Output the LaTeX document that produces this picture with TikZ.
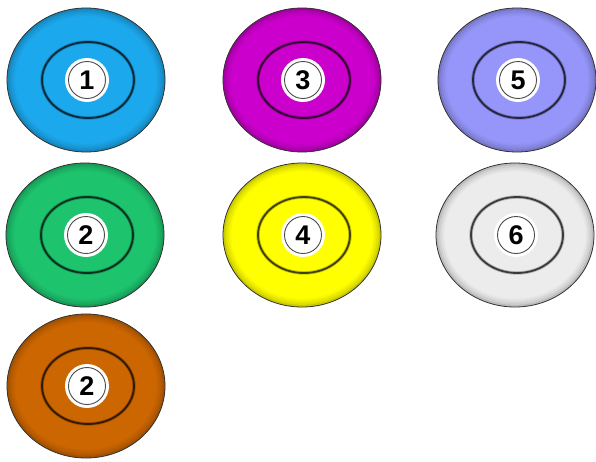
\documentclass[tikz,border=0pt]{standalone}
\usepackage{fontspec}
\setsansfont{Liberation Sans}
\usepackage{tikz}

\definecolor{ringblue}{RGB}{28,168,236}
\definecolor{ringmagenta}{RGB}{204,0,204}
\definecolor{ringviolet}{RGB}{150,150,250}
\definecolor{ringgreen}{RGB}{30,195,110}
\definecolor{ringyellow}{RGB}{255,255,0}
\definecolor{ringgrey}{RGB}{236,236,236}
\definecolor{ringorange}{RGB}{204,102,0}

\tikzset{
    number/.style={circle, draw=black!70, line width=0.9pt, fill=white,
        minimum size=37pt, inner sep=0pt,
        font=\fontsize{27}{27}\selectfont\sffamily\bfseries},
}

\begin{document}
\begin{tikzpicture}[x=1pt,y=-1pt]
            \useasboundingbox (0,0) rectangle (596,461);

            \coordinate (a) at (86,80);
            \coordinate (b) at (85,235);
            \coordinate (c) at (86,386);
            \coordinate (d) at (302,80);
            \coordinate (e) at (302,235);
            \coordinate (f) at (517,80);
            \coordinate (g) at (515,235);

            \foreach \p/\c/\n in {a/ringblue/1,b/ringgreen/2,c/ringorange/2,
                                  d/ringmagenta/3,e/ringyellow/4,
                                  f/ringviolet/5,g/ringgrey/6}{
                \fill[\c] (\p) ellipse (79 and 72);
                % darker rim
                \foreach \r/\o in {1/0.5,3/0.3,5/0.18,7/0.08}{
                    \draw[\c!60!black, line width=2.2pt, opacity=\o] (\p) ellipse ({79-\r} and {72-\r});
                }
                \draw[black!80, line width=0.8pt] (\p) ellipse (79 and 72);
                \draw[\c!40!black, line width=3.5pt, opacity=0.35] ([xshift=2pt]\p) ellipse (46 and 38);
                \draw[\c!25!black, line width=1.8pt] ([xshift=2pt]\p) ellipse (46 and 38);
                \fill[white] ([xshift=1pt]\p) circle (22);
                \node[number] (n-\p) at ([xshift=1pt]\p) {\n};
            }
        \end{tikzpicture}
\end{document}
